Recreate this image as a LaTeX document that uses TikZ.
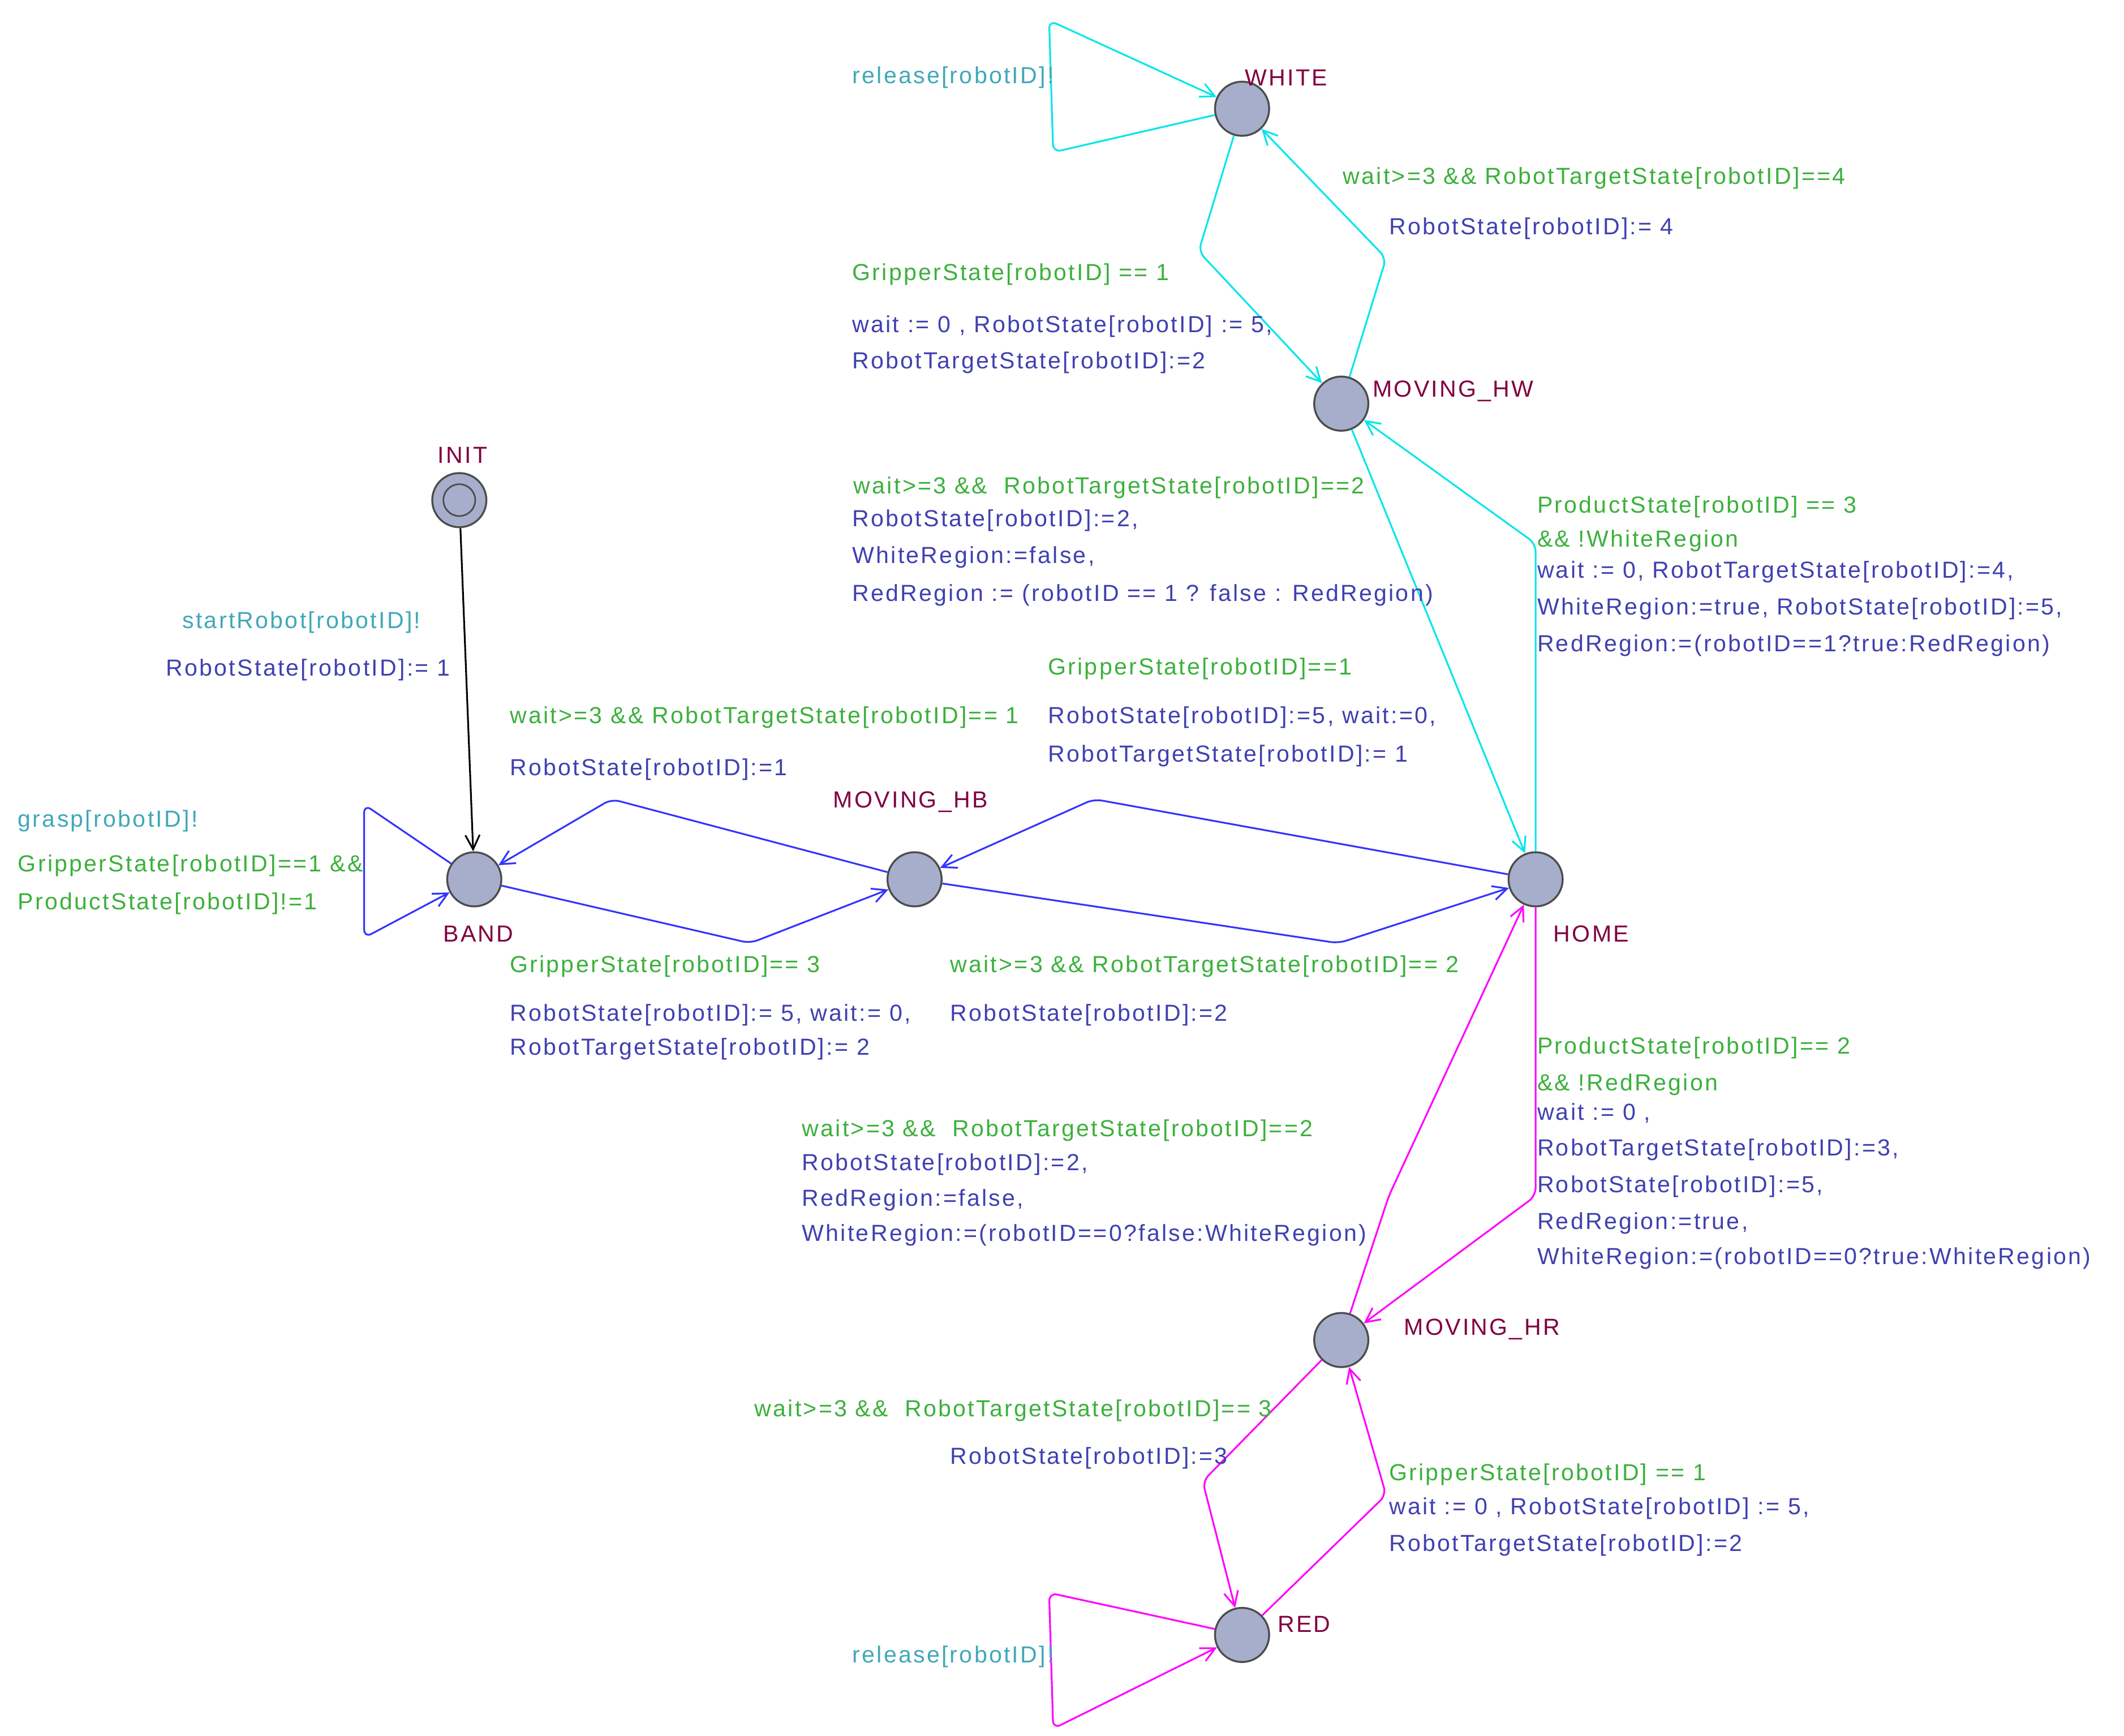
\documentclass[tikz,border=0pt]{standalone}
\usepackage{fontspec}
\setmainfont{Liberation Sans}[LetterSpace=8]
\usetikzlibrary{arrows.meta}
\definecolor{nfill}{RGB}{166,174,204}
\definecolor{eblue}{RGB}{51,51,255}
\definecolor{ecyan}{RGB}{0,230,235}
\definecolor{emag}{RGB}{255,0,255}
\definecolor{cname}{RGB}{128,0,64}
\definecolor{csync}{RGB}{64,168,184}
\definecolor{cguard}{RGB}{60,176,60}
\definecolor{cassign}{RGB}{64,64,176}
\tikzset{
 loc/.style={circle,draw=black!70,fill=nfill,minimum size=34,inner sep=0,line width=1.2pt},
 lab/.style={anchor=west,inner sep=0,font=\fontsize{14.6pt}{16pt}\selectfont},
 nm/.style={lab,text=cname},
 sy/.style={lab,text=csync},
 gd/.style={lab,text=cguard},
 as/.style={lab,text=cassign},
 ed/.style={line width=1.1pt,rounded corners=5pt,-{Straight Barb[length=9pt,width=9pt]}},
}
\begin{document}
\begin{tikzpicture}[x=0.03cm,y=-0.03cm]
\useasboundingbox (0,0) rectangle (1563,1277);
\node[loc] (WHITE) at (914,80) {};
\node[loc] (MHW) at (987,297) {};
\node[loc] (INIT) at (338,368) {};
\node[circle,draw=black!70,minimum size=20,inner sep=0,line width=1pt] (INITi) at (338,368) {};
\node[loc] (BAND) at (349,647) {};
\node[loc] (MHB) at (673,647) {};
\node[loc] (HOME) at (1130,647) {};
\node[loc] (MHR) at (987,986) {};
\node[loc] (RED) at (914,1203) {};
% edges
\draw[ed,black] (INIT) -- (BAND);
\draw[ed,eblue] (BAND) -- (268,592) -- (268,690) -- (BAND);
\draw[ed,eblue] (BAND) -- (552,694) -- (MHB);
\draw[ed,eblue] (MHB) -- (450,588) -- (BAND);
\draw[ed,eblue] (MHB) -- (985,694) -- (HOME);
\draw[ed,eblue] (HOME) -- (805,588) -- (MHB);
\draw[ed,ecyan] (HOME.north) -- (1130,400) -- (MHW);
\draw[ed,ecyan] (MHW) -- (HOME);
\draw[ed,ecyan] (MHW) -- (1020,190) -- (WHITE);
\draw[ed,ecyan] (WHITE) -- (882,185) -- (MHW);
\draw[ed,ecyan] (WHITE) -- (775,112) -- (772,15) -- (WHITE);
\draw[ed,emag] (HOME.south) -- (1130,880) -- (MHR);
\draw[ed,emag] (MHR) -- (1022,880) -- (HOME);
\draw[ed,emag] (MHR) -- (885,1090) -- (RED);
\draw[ed,emag] (RED) -- (1020,1100) -- (MHR);
\draw[ed,emag] (RED) -- (772,1172) -- (775,1272) -- (RED);
% labels
\node[sy] (t1) at (627,57) {release[robotID]!};
\node[nm] (t2) at (916,57) {WHITE};
\node[gd] (t3) at (988,131) {wait>=3 \&\& RobotTargetState[robotID]==4};
\node[as] (t4) at (1022,168) {RobotState[robotID]:= 4};
\node[gd] (t5) at (627,202) {GripperState[robotID] == 1};
\node[as] (t6) at (627,240) {wait := 0 , RobotState[robotID] := 5,};
\node[as] (t7) at (627,267) {RobotTargetState[robotID]:=2};
\node[nm] (t8) at (1010,288) {MOVING\_HW};
\node[nm] (t9) at (322,335) {INIT};
\node[gd] (t10) at (628,359) {wait>=3 \&\&\ \ RobotTargetState[robotID]==2};
\node[as] (t11) at (627,383) {RobotState[robotID]:=2,};
\node[as] (t12) at (627,410) {WhiteRegion:=false,};
\node[as] (t13) at (627,438) {RedRegion := (robotID == 1 ? false : RedRegion)};
\node[gd] (t14) at (1131,373) {ProductState[robotID] == 3};
\node[gd] (t15) at (1131,398) {\&\& !WhiteRegion};
\node[as] (t16) at (1131,421) {wait := 0, RobotTargetState[robotID]:=4,};
\node[as] (t17) at (1131,448) {WhiteRegion:=true, RobotState[robotID]:=5,};
\node[as] (t18) at (1131,475) {RedRegion:=(robotID==1?true:RedRegion)};
\node[sy] (t19) at (134,458) {startRobot[robotID]!};
\node[as] (t20) at (122,493) {RobotState[robotID]:= 1};
\node[gd] (t21) at (771,492) {GripperState[robotID]==1};
\node[as] (t22) at (771,528) {RobotState[robotID]:=5, wait:=0,};
\node[as] (t23) at (771,556) {RobotTargetState[robotID]:= 1};
\node[gd] (t24) at (375,528) {wait>=3 \&\& RobotTargetState[robotID]== 1};
\node[as] (t25) at (375,566) {RobotState[robotID]:=1};
\node[nm] (t26) at (613,590) {MOVING\_HB};
\node[sy] (t27) at (13,604) {grasp[robotID]!};
\node[gd] (t28) at (13,637) {GripperState[robotID]==1 \&\&};
\node[gd] (t29) at (13,665) {ProductState[robotID]!=1};
\node[nm] (t30) at (326,687) {BAND};
\node[nm] (t31) at (1143,687) {HOME};
\node[gd] (t32) at (375,711) {GripperState[robotID]== 3};
\node[as] (t33) at (375,747) {RobotState[robotID]:= 5, wait:= 0,};
\node[as] (t34) at (375,772) {RobotTargetState[robotID]:= 2};
\node[gd] (t35) at (699,711) {wait>=3 \&\& RobotTargetState[robotID]== 2};
\node[as] (t36) at (699,747) {RobotState[robotID]:=2};
\node[gd] (t37) at (1131,771) {ProductState[robotID]== 2};
\node[gd] (t38) at (1131,798) {\&\& !RedRegion};
\node[as] (t39) at (1131,819) {wait := 0 ,};
\node[as] (t40) at (1131,846) {RobotTargetState[robotID]:=3,};
\node[as] (t41) at (1131,873) {RobotState[robotID]:=5,};
\node[as] (t42) at (1131,900) {RedRegion:=true,};
\node[as] (t43) at (1131,926) {WhiteRegion:=(robotID==0?true:WhiteRegion)};
\node[gd] (t44) at (590,832) {wait>=3 \&\&\ \ RobotTargetState[robotID]==2};
\node[as] (t45) at (590,857) {RobotState[robotID]:=2,};
\node[as] (t46) at (590,883) {RedRegion:=false,};
\node[as] (t47) at (590,909) {WhiteRegion:=(robotID==0?false:WhiteRegion)};
\node[nm] (t48) at (1033,978) {MOVING\_HR};
\node[gd] (t49) at (555,1038) {wait>=3 \&\&\ \ RobotTargetState[robotID]== 3};
\node[as] (t50) at (699,1073) {RobotState[robotID]:=3};
\node[gd] (t51) at (1022,1085) {GripperState[robotID] == 1};
\node[as] (t52) at (1022,1110) {wait := 0 , RobotState[robotID] := 5,};
\node[as] (t53) at (1022,1137) {RobotTargetState[robotID]:=2};
\node[sy] (t54) at (627,1219) {release[robotID]!};
\node[nm] (t55) at (940,1195) {RED};
\end{tikzpicture}
\end{document}
